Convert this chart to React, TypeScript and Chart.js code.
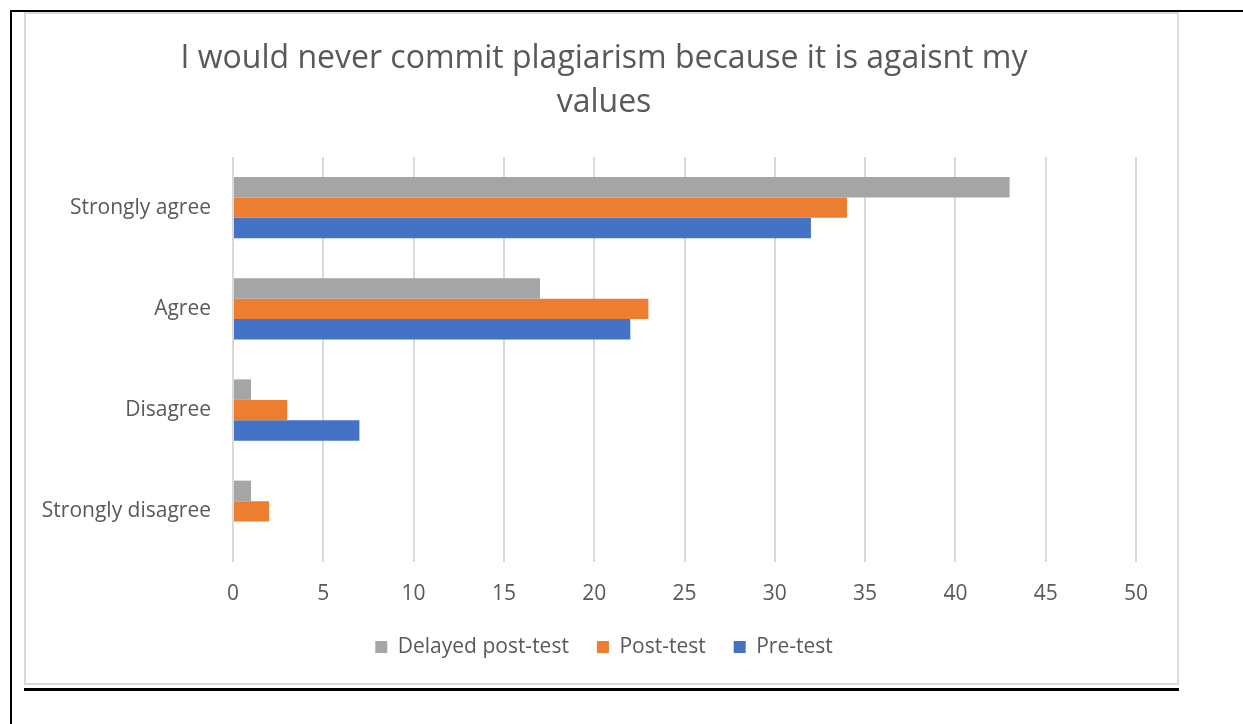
import React, { useEffect, useRef } from "react";
import { Chart, registerables } from "chart.js";

Chart.register(...registerables);

const titleLines = ["I would never commit plagiarism because it is agaisnt my", "values"];
const categories = ["Strongly agree", "Agree", "Disagree", "Strongly disagree"];
const delayedPostTest = [43, 17, 1, 1];
const postTest = [34, 23, 3, 2];
const preTest = [32, 22, 7, 0];
const seriesNames = ["Delayed post-test", "Post-test", "Pre-test"];
const seriesColors = ["#A5A5A5", "#ED7D31", "#4472C4"];
const xMin = 0;
const xMax = 50;
const xStep = 5;

const FONT = "'Open Sans', 'DejaVu Sans', sans-serif";
const TEXT = "#595959";

export default function App() {
  const ref = useRef<HTMLCanvasElement | null>(null);

  useEffect(() => {
    if (!ref.current) return;
    const chart = new Chart(ref.current, {
      type: "bar",
      data: {
        labels: categories,
        datasets: [delayedPostTest, postTest, preTest].map((d, i) => ({
          label: seriesNames[i],
          data: d,
          backgroundColor: seriesColors[i],
          borderWidth: 0,
          categoryPercentage: 0.607,
          barPercentage: 1,
        })),
      },
      options: {
        indexAxis: "y",
        animation: false,
        responsive: false,
        maintainAspectRatio: false,
        layout: { padding: { left: 46, right: 40, top: 0, bottom: 14.5 } },
        plugins: {
          title: {
            display: true,
            text: titleLines,
            color: TEXT,
            font: { family: FONT, size: 32, weight: "normal", lineHeight: 44 / 32 },
            padding: { top: 23, bottom: 32 },
          },
          legend: {
            position: "bottom",
            labels: {
              boxWidth: 12,
              boxHeight: 12,
              padding: 28,
              color: TEXT,
              font: { family: FONT, size: 21 },
            },
          },
          tooltip: { enabled: false },
        },
        scales: {
          x: {
            min: xMin,
            max: xMax,
            ticks: {
              stepSize: xStep,
              color: TEXT,
              padding: 19.5,
              font: { family: FONT, size: 21 },
            },
            grid: { color: "#D9D9D9", lineWidth: 2, drawTicks: false },
            border: { display: false },
            afterFit: (s: any) => {
              s.height = 46.5;
            },
          },
          y: {
            ticks: {
              color: TEXT,
              padding: 22,
              font: { family: FONT, size: 21 },
            },
            grid: { display: false, drawTicks: false },
            border: { display: false },
            afterFit: (s: any) => {
              s.width = 161;
              s._computeLabelArea = () => undefined;
            },
          },
        },
      },
    });
    return () => chart.destroy();
  }, []);

  return (
    <div style={{ position: "absolute", left: 0, top: 0, width: 1243, height: 724, background: "#fff" }}>
      <div style={{ position: "absolute", left: 10, top: 10, width: 1233, height: 2, background: "#000" }} />
      <div style={{ position: "absolute", left: 10, top: 10, width: 2, height: 714, background: "#000" }} />
      <div
        style={{
          position: "absolute",
          left: 24,
          top: 12,
          width: 1155,
          height: 673,
          border: "2px solid #D9D9D9",
          boxSizing: "border-box",
        }}
      />
      <div style={{ position: "absolute", left: 24, top: 688, width: 1155, height: 3, background: "#000" }} />
      <canvas
        ref={ref}
        width={1150}
        height={668}
        style={{ position: "absolute", left: 26, top: 14, width: 1150, height: 668 }}
      />
    </div>
  );
}
